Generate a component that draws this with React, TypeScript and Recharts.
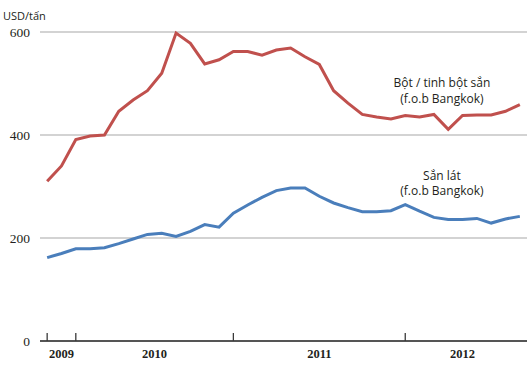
import React from 'react';
import { LineChart, Line, XAxis, YAxis, CartesianGrid, ReferenceDot } from 'recharts';

// period index (monthly observations)
const periods = Array.from({ length: 34 }, (_, k) => k);

// Bột / tinh bột sắn (f.o.b Bangkok), USD/tấn
const starchPrices = [
  310, 340, 391, 398, 400, 446, 468, 486, 520, 598, 578, 538, 546, 562, 562, 555, 565,
  569, 552, 537, 486, 462, 440, 435, 431, 438, 435, 440, 411, 438, 439, 439, 446, 459,
];

// Sắn lát (f.o.b Bangkok), USD/tấn
const chipPrices = [
  162, 170, 179, 179, 181, 189, 198, 207, 209, 203, 213, 226, 221, 248, 264, 279, 292,
  297, 297, 281, 268, 259, 251, 251, 253, 265, 252, 240, 236, 236, 238, 229, 237, 242,
];

const yTicks = [0, 200, 400, 600];
const yearLabels = ['2009', '2010', '2011', '2012'];
const yearCenters = [1, 7.5, 19, 29];
const yearBoundaries = [0, 2, 13, 25];

const unitLabel = 'USD/tấn';
const starchLabel = ['Bột / tinh bột sắn', '(f.o.b Bangkok)'];
const chipLabel = ['Sắn lát', '(f.o.b Bangkok)'];

const data = periods.map((i, k) => ({ i, starch: starchPrices[k], chip: chipPrices[k] }));

const sansFont = '"Open Sans", "Liberation Sans", sans-serif';
const serifFont = '"Liberation Serif", "DejaVu Serif", serif';

const XTick = (props: any) => {
  const { x, y, payload } = props;
  const v = payload.value;
  const bi = yearBoundaries.indexOf(v);
  const li = yearCenters.indexOf(v);
  return (
    <g>
      {bi >= 0 && <line x1={x} x2={x} y1={y - 8} y2={y} stroke="#3a3a3a" strokeWidth={1.3} />}
      {li >= 0 && (
        <text x={x} y={y + 17} textAnchor="middle" fontFamily={serifFont} fontWeight="bold" fontSize={12.5} fill="#231f20">
          {yearLabels[li]}
        </text>
      )}
    </g>
  );
};

const annot = (text: string) => ({
  value: text,
  position: 'center' as const,
  fontFamily: sansFont,
  fontSize: 12,
  fill: '#231f20',
});

export default function App() {
  return (
    <div style={{ width: 530, height: 375 }}>
      <style>{`body{margin:0}`}</style>
      <LineChart width={530} height={375} data={data} margin={{ top: 32, right: 3, bottom: 0, left: 0 }}>
        <CartesianGrid vertical={false} stroke="#a8a8a8" strokeWidth={1.2} />
        <XAxis
          type="number"
          dataKey="i"
          domain={[-0.5, 33.5]}
          ticks={[...yearBoundaries, ...yearCenters]}
          interval={0}
          height={34}
          tickSize={0}
          tickMargin={0}
          tickLine={false}
          axisLine={{ stroke: '#555555', strokeWidth: 2 }}
          tick={<XTick />}
        />
        <YAxis
          type="number"
          domain={[0, 600]}
          ticks={yTicks}
          width={40}
          axisLine={false}
          tickLine={false}
          tickSize={0}
          tickMargin={10}
          tick={{ fontFamily: serifFont, fontSize: 13.5, fill: '#231f20' }}
          label={{
            content: () => (
              <text x={3} y={20} fontFamily={sansFont} fontSize={11} fill="#231f20">
                {unitLabel}
              </text>
            ),
          }}
        />
        <Line type="linear" dataKey="starch" stroke="#c0504d" strokeWidth={3} dot={false} isAnimationActive={false} />
        <Line type="linear" dataKey="chip" stroke="#4a7ebb" strokeWidth={3} dot={false} isAnimationActive={false} />
        <ReferenceDot x={27.56} y={501} r={0} fill="none" stroke="none" label={annot(starchLabel[0])} />
        <ReferenceDot x={27.56} y={471} r={0} fill="none" stroke="none" label={annot(starchLabel[1])} />
        <ReferenceDot x={27.56} y={321} r={0} fill="none" stroke="none" label={annot(chipLabel[0])} />
        <ReferenceDot x={27.56} y={291} r={0} fill="none" stroke="none" label={annot(chipLabel[1])} />
      </LineChart>
    </div>
  );
}
